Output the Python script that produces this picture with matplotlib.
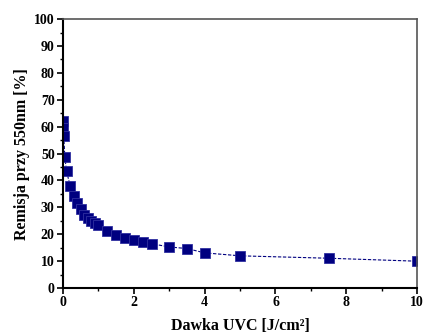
import numpy as np
import matplotlib.pyplot as plt

# dane
dawka = [0, 0.01, 0.02, 0.05, 0.1, 0.2, 0.3, 0.4, 0.5, 0.6, 0.7, 0.8, 0.9, 1.0,
         1.25, 1.5, 1.75, 2.0, 2.25, 2.5, 3.0, 3.5, 4.0, 5.0, 7.5, 10.0]
remisja = [62.2, 59.6, 56.7, 48.9, 43.4, 38.1, 34.1, 31.6, 29.3, 27.3, 26.2, 24.9, 24.2, 23.6,
           21.2, 19.6, 18.8, 17.8, 17.1, 16.5, 15.3, 14.7, 13.1, 12.0, 11.1, 10.0]

plt.rcParams['font.family'] = ['Liberation Serif', 'DejaVu Serif']
plt.rcParams['font.weight'] = 'bold'

fig = plt.figure(figsize=(4.23, 3.35), dpi=100)
ax = fig.add_axes([0.149, 0.140, 0.837, 0.803])

ax.plot(dawka, remisja, ls='--', lw=0.8, c='#000080', marker='s', ms=6.5,
        mfc='#000080', mec='#3030a0', mew=0.6, dashes=(3, 1.5))

ax.set_xlim(0, 10)
ax.set_ylim(0, 100)
ax.set_xticks(np.arange(0, 11, 2))
ax.set_xticks(np.arange(1, 10, 2), minor=True)
ax.set_yticks(np.arange(0, 101, 10))
ax.set_yticks(np.arange(5, 100, 10), minor=True)

ax.tick_params(which='major', direction='out', length=4, width=1.2, labelsize=10, pad=2,
               top=False, right=False)
ax.tick_params(which='minor', direction='out', length=2.5, width=1, top=False, right=False)
for lab in ax.get_xticklabels() + ax.get_yticklabels():
    lab.set_fontweight('bold')

for s in ['left', 'bottom']:
    ax.spines[s].set_linewidth(1.5)
    ax.spines[s].set_color('black')
for s in ['top', 'right']:
    ax.spines[s].set_linewidth(1.2)
    ax.spines[s].set_color('#555555')

ax.set_xlabel('Dawka UVC [J/cm²]', fontsize=11.5, fontweight='bold', labelpad=6)
ax.set_ylabel('Remisja przy 550nm [%]', fontsize=11.5, fontweight='bold', labelpad=3)

fig.savefig('out.png', dpi=100)
